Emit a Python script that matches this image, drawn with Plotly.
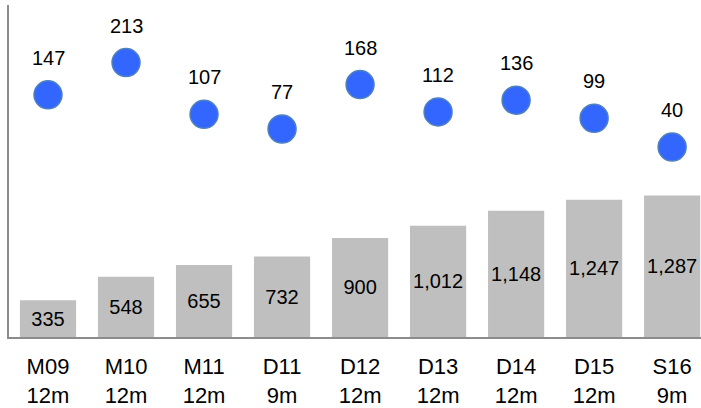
import plotly.graph_objects as go

periods = ["M09", "M10", "M11", "D11", "D12", "D13", "D14", "D15", "S16"]
durations = ["12m", "12m", "12m", "9m", "12m", "12m", "12m", "12m", "9m"]
bar_values = [335, 548, 655, 732, 900, 1012, 1148, 1247, 1287]
dot_values = [147, 213, 107, 77, 168, 112, 136, 99, 40]

tick_labels = [f"{p}<br>{d}" for p, d in zip(periods, durations)]
x = list(range(len(periods)))

fig = go.Figure()
fig.add_trace(go.Bar(
    x=x, y=bar_values,
    marker=dict(color="#BFBFBF", line=dict(width=0)),
    width=0.72,
    text=[f"{v:,}" for v in bar_values],
    textposition="inside",
    insidetextanchor="middle",
    constraintext="none",
    textfont=dict(family="Liberation Sans, Arial", size=20, color="#000000"),
    hoverinfo="skip",
))
fig.add_trace(go.Scatter(
    x=x, y=dot_values,
    mode="markers",
    marker=dict(size=28, color="#3366FF", line=dict(color="#4F81BD", width=1.5)),
    yaxis="y2",
    cliponaxis=False,
    hoverinfo="skip",
))

annotations = [
    dict(x=xi, y=v, xref="x", yref="y2", text=str(v), showarrow=False,
         yshift=37, xanchor="center", yanchor="middle",
         font=dict(family="Liberation Sans, Arial", size=20, color="#000000"))
    for xi, v in zip(x, dot_values)
]

fig.update_layout(
    width=701, height=408,
    margin=dict(l=9, r=0, t=5, b=67),
    paper_bgcolor="white", plot_bgcolor="white",
    showlegend=False,
    font=dict(family="Liberation Sans, Arial", color="#000000"),
    annotations=annotations,
    xaxis=dict(
        range=[-0.5, 8.37],
        tickmode="array", tickvals=x, ticktext=tick_labels,
        tickfont=dict(size=22, color="#000000"),
        ticklabelstandoff=9,
        showline=True, linecolor="#8C8C8C", linewidth=2,
        showgrid=False, zeroline=False, ticks="",
    ),
    yaxis=dict(
        range=[0, 3018],
        showline=True, linecolor="#8C8C8C", linewidth=2,
        showgrid=False, zeroline=False, showticklabels=False, ticks="",
    ),
    yaxis2=dict(
        range=[-349, 331], overlaying="y",
        visible=False,
    ),
)

fig.write_html("out.html", config={"displayModeBar": False},
               post_script="document.body.style.margin='0';")
